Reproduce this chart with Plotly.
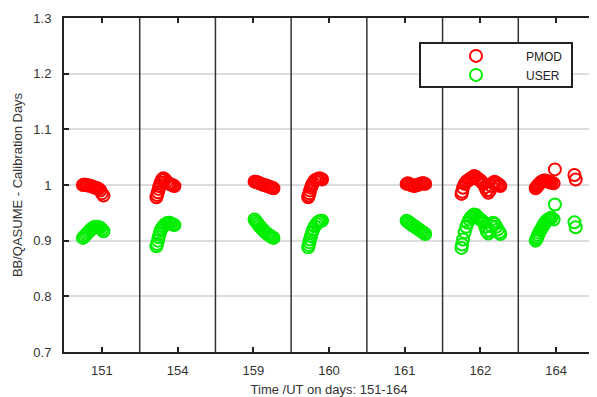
import plotly.graph_objects as go

# ---- data -------------------------------------------------------------
days = ["151", "154", "159", "160", "161", "162", "164"]

# hours UT of each measurement, PMOD and USER ratios, per day
h151 = [6.0, 6.5, 7.0, 7.5, 8.0, 8.5, 9.0, 9.5, 10.0, 10.5, 11.0, 11.5, 12.0, 12.5]
p151 = [1.000, 1.001, 1.000, 0.999, 0.999, 0.998, 0.997, 0.996, 0.995, 0.994, 0.993, 0.990, 0.985, 0.981]
u151 = [0.905, 0.908, 0.911, 0.914, 0.917, 0.920, 0.922, 0.924, 0.925, 0.925, 0.924, 0.923, 0.920, 0.917]

h154 = [5.3, 5.5, 5.8, 6.0, 6.3, 6.6, 7.0, 7.5, 8.0, 8.5, 9.0, 9.5, 10.0, 10.5, 11.0]
p154 = [0.978, 0.982, 0.987, 0.993, 0.998, 1.004, 1.009, 1.012, 1.010, 1.006, 1.003, 1.002, 1.001, 0.999, 0.998]
u154 = [0.890, 0.894, 0.900, 0.906, 0.912, 0.918, 0.922, 0.926, 0.929, 0.931, 0.932, 0.932, 0.931, 0.929, 0.928]

h159 = [12.4, 12.8, 13.2, 13.6, 14.0, 14.5, 15.0, 15.5, 16.0, 16.5, 17.0, 17.5, 18.0, 18.4]
p159 = [1.006, 1.006, 1.005, 1.004, 1.003, 1.002, 1.001, 1.000, 0.999, 0.998, 0.997, 0.996, 0.995, 0.994]
u159 = [0.938, 0.935, 0.932, 0.929, 0.926, 0.923, 0.920, 0.917, 0.914, 0.912, 0.910, 0.908, 0.906, 0.905]

h160 = [5.4, 5.6, 5.8, 6.0, 6.3, 6.6, 7.0, 7.5, 8.0, 8.5, 9.0, 9.5, 9.8]
p160 = [0.978, 0.981, 0.985, 0.990, 0.995, 1.000, 1.004, 1.008, 1.010, 1.011, 1.012, 1.011, 1.010]
u160 = [0.888, 0.892, 0.897, 0.902, 0.908, 0.914, 0.920, 0.926, 0.930, 0.933, 0.935, 0.936, 0.936]

h161 = [12.6, 13.0, 13.5, 14.0, 14.5, 15.0, 15.5, 16.0, 16.5, 17.0, 17.5, 18.0, 18.5]
p161 = [1.002, 1.003, 1.002, 1.000, 0.999, 0.998, 0.999, 1.000, 1.001, 1.002, 1.003, 1.003, 1.002]
u161 = [0.936, 0.934, 0.932, 0.930, 0.928, 0.926, 0.924, 0.922, 0.920, 0.918, 0.916, 0.914, 0.912]

h162 = [6.0, 6.2, 6.5, 7.0, 7.5, 8.0, 8.5, 9.0, 9.5, 10.0, 10.5, 11.0, 11.5, 12.0,
        12.5, 13.0, 13.5, 14.0, 14.5, 15.0, 15.5, 16.0, 16.5, 17.0, 17.5, 18.0, 18.3]
p162 = [0.984, 0.988, 0.995, 1.002, 1.006, 1.008, 1.010, 1.012, 1.014, 1.016, 1.015, 1.012, 1.010, 1.008,
        1.005, 1.002, 0.996, 0.990, 0.986, 0.990, 0.998, 1.004, 1.006, 1.004, 1.002, 1.000, 0.998]
u162 = [0.887, 0.893, 0.902, 0.915, 0.925, 0.932, 0.938, 0.942, 0.945, 0.947, 0.946, 0.943, 0.940, 0.938,
        0.936, 0.933, 0.925, 0.917, 0.913, 0.918, 0.926, 0.932, 0.930, 0.925, 0.920, 0.915, 0.912]

h164 = [5.5, 5.8, 6.0, 6.3, 6.6, 7.0, 7.4, 7.8, 8.2, 8.6, 9.0, 9.5, 10.0, 10.5, 11.2, 11.6, 17.8, 18.2]
p164 = [0.994, 0.996, 0.998, 1.000, 1.002, 1.004, 1.006, 1.007, 1.008, 1.008, 1.007, 1.006, 1.005, 1.004,
        1.003, 1.028, 1.018, 1.010]
u164 = [0.900, 0.903, 0.906, 0.910, 0.914, 0.918, 0.922, 0.926, 0.930, 0.933, 0.936, 0.938, 0.940, 0.941,
        0.938, 0.965, 0.933, 0.924]

hours = [h151, h154, h159, h160, h161, h162, h164]
pmod = [p151, p154, p159, p160, p161, p162, p164]
user = [u151, u154, u159, u160, u161, u162, u164]

y_ticks = [0.7, 0.8, 0.9, 1.0, 1.1, 1.2, 1.3]

# ---- build ------------------------------------------------------------
xs, ps, us = [], [], []
for i, (hs, pv, uv) in enumerate(zip(hours, pmod, user)):
    for h, p, u in zip(hs, pv, uv):
        xs.append(i + h / 24.0)
        ps.append(p)
        us.append(u)

font_family = "Liberation Sans, Arial, sans-serif"

fig = go.Figure()
fig.add_trace(go.Scatter(
    x=xs, y=ps, mode="markers", name="PMOD",
    marker=dict(symbol="circle-open", size=12, color="#ff0000", line=dict(width=2, color="#ff0000")),
))
fig.add_trace(go.Scatter(
    x=xs, y=us, mode="markers", name="USER",
    marker=dict(symbol="circle-open", size=12, color="#00ee00", line=dict(width=2, color="#00ee00")),
))

# panel separators
for i in range(1, len(days)):
    fig.add_shape(type="line", xref="x", yref="paper", x0=i, x1=i, y0=0, y1=1,
                  line=dict(color="#333333", width=1.5), layer="above")

# legend frame
fig.add_shape(type="rect", xref="paper", yref="paper", x0=0.6717, x1=0.9585, y0=0.7934, y1=0.925,
              line=dict(color="#222222", width=2), fillcolor="white", layer="above")

fig.update_layout(
    width=589, height=389,
    margin=dict(l=56, r=3, t=10, b=45, autoexpand=False),
    paper_bgcolor="white", plot_bgcolor="white",
    font=dict(family=font_family, size=13, color="#333333"),
    showlegend=True,
    legend=dict(x=0.683, y=0.93, xanchor="left", yanchor="top",
                bgcolor="rgba(0,0,0,0)", borderwidth=0,
                font=dict(size=12, color="#222222"), itemwidth=90, tracegroupgap=0),
    xaxis=dict(
        range=[0, len(days)],
        tickvals=[i + 0.5 for i in range(len(days))], ticktext=days,
        ticks="inside", ticklen=5, tickwidth=2, tickcolor="#222222",
        showline=True, linewidth=2, linecolor="#222222", mirror="ticks",
        showgrid=False, zeroline=False, ticklabelstandoff=5,
        title=dict(text="Time /UT on days: 151-164", standoff=14, font=dict(size=13)),
    ),
    yaxis=dict(
        range=[0.7, 1.3], tickvals=y_ticks,
        ticks="inside", ticklen=5, tickwidth=2, tickcolor="#222222",
        showline=True, linewidth=2, linecolor="#222222", mirror=True,
        showgrid=True, gridcolor="#dddddd", gridwidth=2, zeroline=False,
        ticklabelstandoff=8,
        title=dict(text="BB/QASUME - Calibration Days", standoff=8, font=dict(size=13)),
    ),
)

fig.write_html("out.html")
